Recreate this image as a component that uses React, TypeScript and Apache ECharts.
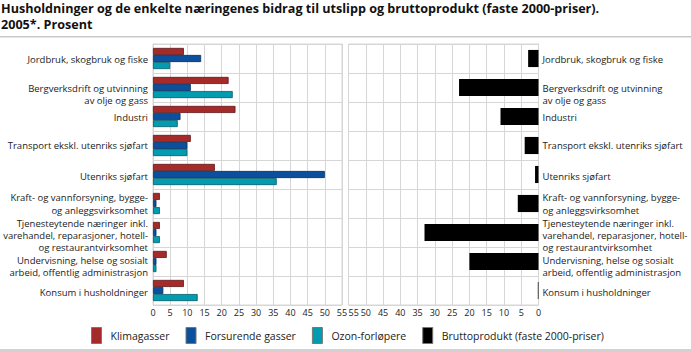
import React, { useEffect, useRef } from "react";
import * as echarts from "echarts";

const titleText =
  "Husholdninger og de enkelte næringenes bidrag til utslipp og bruttoprodukt (faste 2000-priser).\n2005*. Prosent";

const categories = [
  "Jordbruk, skogbruk og fiske",
  "Bergverksdrift og utvinning\nav olje og gass",
  "Industri",
  "Transport ekskl. utenriks sjøfart",
  "Utenriks sjøfart",
  "Kraft- og vannforsyning, bygge-\nog anleggsvirksomhet",
  "Tjenesteytende næringer inkl.\nvarehandel, reparasjoner, hotell-\nog restaurantvirksomhet",
  "Undervisning, helse og sosialt\narbeid, offentlig administrasjon",
  "Konsum i husholdninger",
];

// downward nudge (px) of each category label, as in the reference
const labelShift = [0.5, 7, 1, 0, 2, 0.5, 2.8, 5, 2];

const klimagasser = [9, 22, 24, 11, 18, 2, 2, 4, 9];
const forsurende = [14, 11, 8, 10, 50, 1, 1, 1, 3];
const ozon = [5, 23.2, 7.2, 10, 36, 2, 2, 1, 13];
const brutto = [3, 23, 11, 4, 1, 6, 33, 20, 0.2];

const seriesNames = [
  "Klimagasser",
  "Forsurende gasser",
  "Ozon-forløpere",
  "Bruttoprodukt (faste 2000-priser)",
];

const FONT = "'Open Sans', sans-serif";
const GRID_COLOR = "#d6d6d6";
const LABEL_SIZE = 9.5;
const LINE_H = 12.3;

export default function App() {
  const ref = useRef<HTMLDivElement>(null);

  useEffect(() => {
    if (!ref.current) return;
    const chart = echarts.init(ref.current, null, { renderer: "svg" });

    const valueAxisCommon = {
      type: "value",
      min: 0,
      max: 55,
      interval: 5,
      axisLine: { show: false },
      axisTick: { show: false },
      splitLine: { show: true, lineStyle: { color: GRID_COLOR, width: 1 } },
      axisLabel: {
        color: "#222",
        fontSize: 9,
        fontFamily: FONT,
        margin: 3,
      },
    };

    const rich: Record<string, any> = {
      n: {
        fontSize: LABEL_SIZE,
        fontFamily: FONT,
        color: "#222",
        lineHeight: LINE_H,
      },
    };
    labelShift.forEach((s, i) => {
      rich["e" + i] = {
        fontSize: 1,
        lineHeight: Math.max(2 * s, 0.01),
        color: "rgba(0,0,0,0)",
      };
    });

    const catFormatter = (value: string, index: number) => {
      const lines = value.split("\n").map((l) => `{n|${l}}`);
      if (labelShift[index] > 0) lines.unshift(`{e${index}| }`);
      return lines.join("\n");
    };

    const catAxisCommon = {
      type: "category",
      data: categories,
      inverse: true,
      axisLine: { show: true, lineStyle: { color: GRID_COLOR } },
      axisTick: { show: false },
      splitLine: { show: true, interval: 0, lineStyle: { color: GRID_COLOR, width: 1 } },
      axisLabel: {
        color: "#222",
        fontSize: LABEL_SIZE,
        fontFamily: FONT,
        lineHeight: LINE_H,
        interval: 0,
        formatter: catFormatter,
        rich,
      },
    };

    const option = {
      animation: false,
      backgroundColor: "#ffffff",
      textStyle: { fontFamily: FONT },
      title: {
        text: titleText,
        left: 1,
        top: 0,
        padding: 0,
        textStyle: {
          fontFamily: FONT,
          fontSize: 12.6,
          fontWeight: "bold",
          color: "#111",
          lineHeight: 16.5,
        },
      },
      graphic: [
        {
          type: "rect",
          shape: { x: 0, y: 36, width: 691, height: 1.5 },
          style: { fill: "#c9c9c9" },
          silent: true,
        },
        {
          type: "rect",
          shape: { x: 0, y: 349, width: 691, height: 3 },
          style: { fill: "#d2d2d2" },
          silent: true,
        },
      ],
      legend: {
        data: seriesNames,
        left: 91,
        top: 327,
        padding: 0,
        itemGap: 16,
        itemWidth: 10,
        itemHeight: 16,
        icon: "rect",
        itemStyle: { borderColor: "#777", borderWidth: 1 },
        textStyle: {
          fontFamily: FONT,
          fontSize: 10.5,
          color: "#222",
          padding: [0, 0, 0, 4],
        },
      },
      grid: [
        {
          left: 153,
          top: 44,
          width: 189,
          height: 261,
          show: true,
          borderColor: GRID_COLOR,
          borderWidth: 1,
          containLabel: false,
          outerBoundsMode: "none",
        },
        {
          left: 348.5,
          top: 44,
          width: 190,
          height: 261,
          show: true,
          borderColor: GRID_COLOR,
          borderWidth: 1,
          containLabel: false,
          outerBoundsMode: "none",
        },
      ],
      xAxis: [
        { ...valueAxisCommon, gridIndex: 0 },
        {
          ...valueAxisCommon,
          gridIndex: 1,
          inverse: true,
          axisLabel: { ...valueAxisCommon.axisLabel, alignMaxLabel: "left" },
        },
      ],
      yAxis: [
        {
          ...catAxisCommon,
          gridIndex: 0,
          position: "left",
          axisLabel: { ...catAxisCommon.axisLabel, margin: 5, align: "right" },
        },
        {
          ...catAxisCommon,
          gridIndex: 1,
          position: "right",
          axisLabel: { ...catAxisCommon.axisLabel, margin: 4, align: "left" },
        },
      ],
      series: [
        {
          name: seriesNames[0],
          type: "bar",
          xAxisIndex: 0,
          yAxisIndex: 0,
          data: klimagasser,
          barGap: "0%",
          barCategoryGap: "27%",
          itemStyle: { color: "#a52a2a", borderColor: "#5e1616", borderWidth: 0.8 },
        },
        {
          name: seriesNames[1],
          type: "bar",
          xAxisIndex: 0,
          yAxisIndex: 0,
          data: forsurende,
          barGap: "0%",
          barCategoryGap: "27%",
          itemStyle: { color: "#0c4f9c", borderColor: "#082e5c", borderWidth: 0.8 },
        },
        {
          name: seriesNames[2],
          type: "bar",
          xAxisIndex: 0,
          yAxisIndex: 0,
          data: ozon,
          barGap: "0%",
          barCategoryGap: "27%",
          itemStyle: { color: "#039bb0", borderColor: "#045a66", borderWidth: 0.8 },
        },
        {
          name: seriesNames[3],
          type: "bar",
          xAxisIndex: 1,
          yAxisIndex: 1,
          data: brutto,
          barCategoryGap: "41%",
          itemStyle: { color: "#000000" },
        },
      ],
    };

    chart.setOption(option as any);
    return () => chart.dispose();
  }, []);

  return (
    <div
      ref={ref}
      style={{ position: "absolute", left: 0, top: 0, width: 691, height: 352 }}
    />
  );
}
